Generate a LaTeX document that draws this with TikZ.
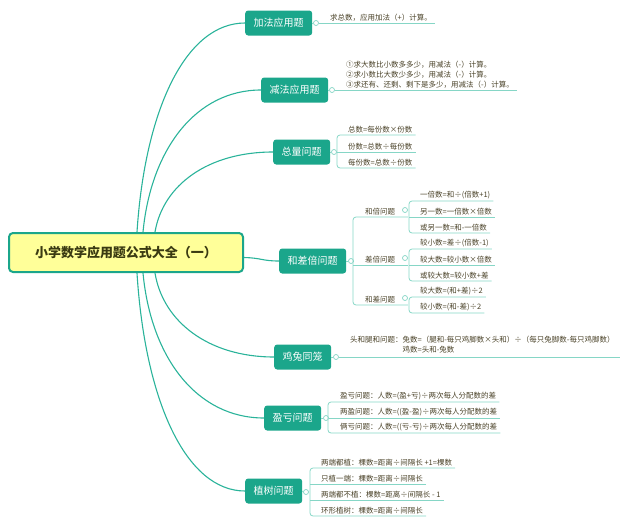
\documentclass[tikz,border=0pt]{standalone}
\usepackage{fontspec}
\setmainfont{Noto Sans CJK SC}
\definecolor{teal1}{HTML}{1BA68B}
\definecolor{lnk}{HTML}{2AB39A}
\definecolor{lt}{HTML}{86D6C6}
\definecolor{ytitle}{HTML}{FFFF99}
\definecolor{leaftxt}{HTML}{4A4228}
\definecolor{titletxt}{HTML}{3A3A12}
\begin{document}
\begin{tikzpicture}[x=1pt,y=-1pt,
  title/.style={draw=teal1, line width=2pt, fill=ytitle, rounded corners=4pt,
    minimum width=234pt, minimum height=39pt, inner sep=0pt, text=titletxt,
    font=\fontsize{13}{15}\selectfont\bfseries},
  topic/.style={fill=teal1, text=white, rounded corners=3pt, minimum height=25pt,
    inner xsep=8.5pt, inner ysep=0pt, font=\fontsize{10}{12}\selectfont, anchor=west},
  knob/.style={circle, draw=lt, fill=white, line width=0.7pt, minimum size=5pt, inner sep=0pt},
  leaf/.style={text=leaftxt, font=\fontsize{7.5}{10}\selectfont, inner xsep=3pt,
    inner ysep=1.5pt, anchor=south west},
  link/.style={draw=lnk, line width=1.1pt},
  bline/.style={draw=lt, line width=0.8pt, rounded corners=3pt}]
\useasboundingbox (0,0) rectangle (630,525);

% root
\node[title] (root) at (126,252.5) {小学数学应用题公式大全（一）};

% main topics
\node[topic] (add) at (245,23) {加法应用题};
\node[topic] (sub) at (261,90) {减法应用题};
\node[topic] (tot) at (273,152) {总量问题};
\node[topic] (hcb) at (279,261) {和差倍问题};
\node[topic] (jt)  at (274,357) {鸡兔同笼};
\node[topic] (yk)  at (264,418) {盈亏问题};
\node[topic] (zs)  at (245,491) {植树问题};

% start points on root
\coordinate (s1) at ([xshift=11pt]root.north);
\coordinate (s2) at ([xshift=17pt]root.north);
\coordinate (s3) at ([xshift=29pt]root.north);
\coordinate (s5) at ([xshift=29pt]root.south);
\coordinate (s6) at ([xshift=17pt]root.south);
\coordinate (s7) at ([xshift=11pt]root.south);
\coordinate (s4) at ([yshift=-5pt]root.east);

\draw[link] (s1) .. controls (145,109) and (186,23) .. (add.west);
\draw[link] (s2) .. controls (151,149) and (196,90) .. (sub.west);
\draw[link] (s3) .. controls (163,185) and (208,152) .. (tot.west);
\draw[link] (s4) .. controls (262,258) and (262,261) .. (hcb.west);
\draw[link] (s5) .. controls (163,322) and (209,357) .. (jt.west);
\draw[link] (s6) .. controls (151,358) and (197,418) .. (yk.west);
\draw[link] (s7) .. controls (145,401) and (186,491) .. (zs.west);

% knobs
\node[knob] (addk) at (316,23) {};
\node[knob] (subk) at (332,90) {};
\node[knob] (totk) at (334,152) {};
\node[knob] (hcbk) at (351,261) {};
\node[knob] (jtk)  at (336,357) {};
\node[knob] (ykk)  at (326,418) {};
\node[knob] (zsk)  at (306,492) {};
\foreach \a/\b in {add/addk,sub/subk,tot/totk,hcb/hcbk,jt/jtk,yk/ykk,zs/zsk}
  \draw[bline] (\a.east) -- (\b.west);

% 加法
\node[leaf] (addl) at (327,23) {求总数，应用加法（+）计算。};
\draw[bline] (addk.east) -- (addl.south east);

% 减法
\node[leaf, align=left] (subl) at (343,90) {①求大数比小数多多少，用减法（-）计算。\\②求小数比大数少多少，用减法（-）计算。\\③求还有、还剩、剩下是多少，用减法（-）计算。};
\draw[bline] (subk.east) -- (subl.south east);

% 总量
\coordinate (totb) at (337,152);
\node[leaf] (tot1) at (345,135) {总数=每份数×份数};
\node[leaf] (tot2) at (345,152) {份数=总数÷每份数};
\node[leaf] (tot3) at (345,168) {每份数=总数÷份数};
\draw[bline] (tot1.south east) -| (totb) |- (tot3.south east);
\draw[bline] (totk.east) -- (tot2.south east);

% 和差倍
\coordinate (hcbb) at (353,261);
\node[leaf] (hb) at (362,217) {和倍问题};
\node[leaf] (cb) at (362,265) {差倍问题};
\node[leaf] (hc) at (362,305) {和差问题};
\node[knob] (hbk) at (405,210) {};
\node[knob] (cbk) at (405,258) {};
\node[knob] (hck) at (405,298) {};
\draw[bline] (hbk.east |- hb.south) -| (hcbb) |- (hck.east |- hc.south);
\draw[bline] (cbk.east |- cb.south) -- (cb.south -| hcbb);
\draw[bline] (hcbk.east) -- (hcbb);

\coordinate (hbb) at (409,217);
\node[leaf] (hb1) at (417,201) {一倍数=和÷(倍数+1)};
\node[leaf] (hb2) at (417,217) {另一数=一倍数×倍数};
\node[leaf] (hb3) at (417,233) {或另一数=和-一倍数};
\draw[bline] (hb1.south east) -| (hbb) |- (hb3.south east);
\draw[bline] (hbb) -- (hb2.south east);

\coordinate (cbb) at (409,265);
\node[leaf] (cb1) at (417,249) {较小数=差÷(倍数-1)};
\node[leaf] (cb2) at (417,265) {较大数=较小数×倍数};
\node[leaf] (cb3) at (417,281) {或较大数=较小数+差};
\draw[bline] (cb1.south east) -| (cbb) |- (cb3.south east);
\draw[bline] (cbb) -- (cb2.south east);

\coordinate (hcb2) at (409,305);
\node[leaf] (hc1) at (417,297) {较大数=(和+差)÷2};
\node[leaf] (hc2) at (417,313) {较小数=(和-差)÷2};
\draw[bline] (hc1.south east) -| (hcb2) |- (hc2.south east);

% 鸡兔同笼
\node[leaf] (jtl) at (347,357) {\begin{tabular}{@{}l@{}l@{}}头和腿和问题：&兔数=（腿和-每只鸡脚数×头和）÷（每只兔脚数-每只鸡脚数）\\ &鸡数=头和-兔数\end{tabular}};
\coordinate (jte) at (620,357);
\draw[bline] (jtk.east) -- (jte);

% 盈亏
\coordinate (ykb) at (328,418);
\node[leaf] (yk1) at (337,402) {盈亏问题：人数=(盈+亏)÷两次每人分配数的差};
\node[leaf] (yk2) at (337,418) {两盈问题：人数=((盈-盈)÷两次每人分配数的差};
\node[leaf] (yk3) at (337,433) {俩亏问题：人数=((亏-亏)÷两次每人分配数的差};
\draw[bline] (yk1.south east) -| (ykb) |- (yk3.south east);
\draw[bline] (ykk.east) -- (yk2.south east);

% 植树
\coordinate (zsb) at (310,492);
\node[leaf] (zs1) at (318,468) {两端都植：棵数=距离÷间隔长 +1=棵数};
\node[leaf] (zs2) at (318,484) {只植一端：棵数=距离÷间隔长};
\node[leaf] (zs3) at (318,500) {两端都不植：棵数=距离÷间隔长 - 1};
\node[leaf] (zs4) at (318,516) {环形植树：棵数=距离÷间隔长};
\draw[bline] (zs1.south east) -| (zsb) |- (zs4.south east);
\draw[bline] (zs2.south east) -- (zs2.south east -| zsb);
\draw[bline] (zs3.south east) -- (zs3.south east -| zsb);
\end{tikzpicture}
\end{document}
